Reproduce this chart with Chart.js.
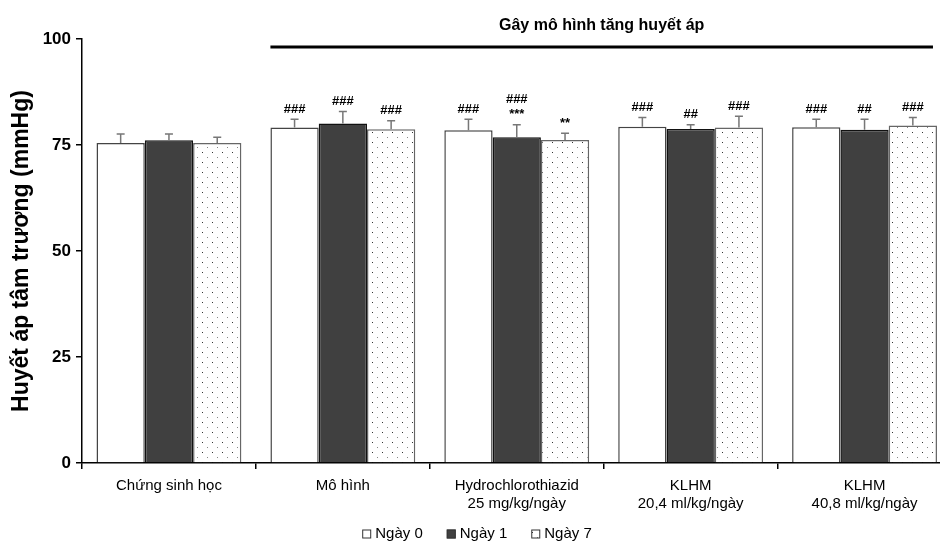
<!DOCTYPE html>
<html>
<head>
<meta charset="utf-8">
<script src="https://cdn.jsdelivr.net/npm/chart.js@4.4.0/dist/chart.umd.min.js"></script>
<style>
  body { margin: 0; width: 940px; height: 542px; overflow: hidden; background: #fff; }
  #wrap { width: 960px; height: 542px; }
</style>
</head>
<body>
<div id="wrap"><canvas id="bp-chart" width="960" height="542"></canvas></div>
<script>
// Data
const groups = [
  ['Chứng sinh học'],
  ['Mô hình'],
  ['Hydrochlorothiazid', '25 mg/kg/ngày'],
  ['KLHM', '20,4 ml/kg/ngày'],
  ['KLHM', '40,8 ml/kg/ngày']
];
const seriesNames = ['Ngày 0', 'Ngày 1', 'Ngày 7'];
const day0 = [75.5, 79.1, 78.5, 79.3, 79.2];
const day1 = [76.1, 80.1, 76.8, 78.8, 78.6];
const day7 = [75.5, 78.7, 76.2, 79.1, 79.6];
const err0 = [2.1, 2.0, 2.6, 2.2, 1.9];
const err1 = [1.5, 2.8, 3.0, 1.0, 2.5];
const err7 = [1.3, 2.0, 1.6, 2.7, 1.9];
// significance marks, top line first
const marks0 = [[], ['###'], ['###'], ['###'], ['###']];
const marks1 = [[], ['###'], ['###', '***'], ['##'], ['##']];
const marks7 = [[], ['###'], ['**'], ['###'], ['###']];
const yTicks = [0, 25, 50, 75, 100];
const bracketText = 'Gây mô hình tăng huyết áp';

const FONT = '"Liberation Sans", Arial, sans-serif';

function dotPattern() {
  const c = document.createElement('canvas');
  c.width = 10; c.height = 10;
  const g = c.getContext('2d');
  g.fillStyle = '#fff';
  g.fillRect(0, 0, 10, 10);
  g.fillStyle = '#333';
  g.fillRect(2, 2, 1, 1);
  g.fillStyle = '#888';
  g.fillRect(7, 7, 1, 1);
  return g.createPattern(c, 'repeat');
}
const dots = dotPattern();

const errors = [err0, err1, err7];
const marks = [marks0, marks1, marks7];

// error bars + significance marks
const errorBars = {
  id: 'errorBars',
  afterDatasetsDraw(chart) {
    const ctx = chart.ctx;
    const y = chart.scales.y;
    ctx.save();
    chart.data.datasets.forEach((ds, i) => {
      const meta = chart.getDatasetMeta(i);
      meta.data.forEach((bar, j) => {
        const top = y.getPixelForValue(ds.data[j] + errors[i][j]);
        ctx.strokeStyle = '#777';
        ctx.lineWidth = 1.5;
        ctx.beginPath();
        ctx.moveTo(bar.x, bar.y);
        ctx.lineTo(bar.x, top);
        ctx.moveTo(bar.x - 4, top);
        ctx.lineTo(bar.x + 4, top);
        ctx.stroke();

        const m = marks[i][j];
        ctx.fillStyle = '#000';
        ctx.font = 'bold 13px ' + FONT;
        ctx.textAlign = 'center';
        ctx.textBaseline = 'middle';
        for (let k = m.length - 1, n = 0; k >= 0; k--, n++) {
          ctx.fillText(m[k], bar.x, top - 10 - n * 15);
        }
      });
    });
    ctx.restore();
  }
};

// bracket over the treated groups, and the legend
const extras = {
  id: 'extras',
  afterDraw(chart) {
    const ctx = chart.ctx;
    const area = chart.chartArea;
    const first = chart.getDatasetMeta(0).data[1];
    const last = chart.getDatasetMeta(2).data[4];
    const x1 = first.x - first.width / 2;
    const x2 = last.x + last.width / 2 - 4;
    ctx.save();
    ctx.strokeStyle = '#000';
    ctx.lineWidth = 3;
    ctx.beginPath();
    ctx.moveTo(x1, area.top + 8);
    ctx.lineTo(x2, area.top + 8);
    ctx.stroke();
    ctx.fillStyle = '#000';
    ctx.font = 'bold 16px ' + FONT;
    ctx.textAlign = 'center';
    ctx.textBaseline = 'middle';
    ctx.fillText(bracketText, (x1 + x2) / 2, area.top - 13);

    // legend
    ctx.font = '15px ' + FONT;
    const box = 9, gap = 4, space = 24;
    const widths = seriesNames.map(s => ctx.measureText(s).width);
    const total = widths.reduce((a, b) => a + b, 0) + seriesNames.length * (box + gap) + space * (seriesNames.length - 1);
    let x = 477 - total / 2;
    const ly = 534;
    ctx.textAlign = 'left';
    ctx.textBaseline = 'middle';
    chart.data.datasets.forEach((ds, i) => {
      ctx.fillStyle = ds.backgroundColor;
      ctx.fillRect(x, ly - box / 2, box, box);
      ctx.strokeStyle = '#333';
      ctx.lineWidth = 1;
      ctx.strokeRect(x + 0.5, ly - box / 2 + 0.5, box - 1, box - 1);
      ctx.fillStyle = '#000';
      ctx.fillText(seriesNames[i], x + box + gap, ly);
      x += box + gap + widths[i] + space;
    });
    ctx.restore();
  }
};

new Chart(document.getElementById('bp-chart'), {
  type: 'bar',
  data: {
    labels: groups,
    datasets: [
      { label: seriesNames[0], data: day0, backgroundColor: '#fff', borderColor: '#444', borderWidth: 1.5 },
      { label: seriesNames[1], data: day1, backgroundColor: '#404040', borderColor: '#111', borderWidth: 1.5 },
      { label: seriesNames[2], data: day7, backgroundColor: dots, borderColor: '#666', borderWidth: 1.5 }
    ]
  },
  options: {
    responsive: false,
    animation: false,
    categoryPercentage: 0.833,
    barPercentage: 1.0,
    layout: { padding: { top: 39, right: 8.5, left: 0, bottom: 0 } },
    plugins: {
      legend: { display: false },
      tooltip: { enabled: false }
    },
    scales: {
      x: {
        offset: true,
        grid: { offset: true, drawOnChartArea: false, drawTicks: true, tickLength: 6, color: '#000', lineWidth: 1.5 },
        border: { color: '#000', width: 1.5 },
        ticks: { color: '#000', font: { family: FONT, size: 15 }, padding: 8, maxRotation: 0, autoSkip: false },
        afterFit: s => { s.height = 79; }
      },
      y: {
        min: 0,
        max: 100,
        afterBuildTicks: s => { s.ticks = yTicks.map(v => ({ value: v })); },
        grid: { drawOnChartArea: false, drawTicks: true, tickLength: 6, color: '#000', lineWidth: 1.5 },
        border: { color: '#000', width: 1.5 },
        ticks: { color: '#000', font: { family: FONT, size: 17, weight: 'bold' }, padding: 5 },
        title: {
          display: true,
          text: 'Huyết áp tâm trương (mmHg)',
          color: '#000',
          font: { family: FONT, size: 23, weight: 'bold' },
          padding: { top: 8, bottom: 0 }
        },
        afterFit: s => { s.width = 82; }
      }
    }
  },
  plugins: [errorBars, extras]
});
</script>
</body>
</html>
